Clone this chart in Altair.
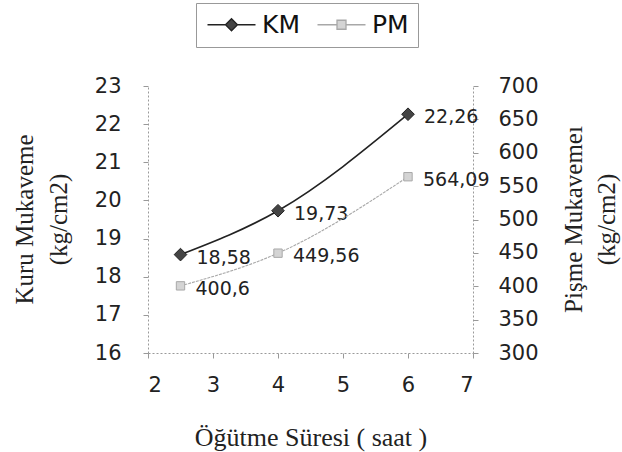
import altair as alt
import pandas as pd

hours = [2.5, 4, 6]
km_values = [18.58, 19.73, 22.26]
pm_values = [400.6, 449.56, 564.09]
km_labels = ["18,58", "19,73", "22,26"]
pm_labels = ["400,6", "449,56", "564,09"]
series_names = ["KM", "PM"]
x_ticks = [2, 3, 4, 5, 6, 7]
km_ticks = [16, 17, 18, 19, 20, 21, 22, 23]
pm_ticks = [300, 350, 400, 450, 500, 550, 600, 650, 700]

km_df = pd.DataFrame({"t": hours, "v": km_values, "lab": km_labels, "series": "KM"})
pm_df = pd.DataFrame({"t": hours, "v": pm_values, "lab": pm_labels, "series": "PM"})
legend_df = pd.DataFrame({"t": [hours[0], hours[0]], "v": [km_values[0], km_values[0]], "series": series_names})

KM_DARK = "#222222"
PM_GRAY = "#a8a8a8"
SANS = "DejaVu Sans"
SERIF = "Liberation Serif"

PATH_KM = "M-1,0H0.8M2,0H3.8M0.8,0L1.4,-0.6L2,0L1.4,0.6Z"
PATH_PM = "M-1,0H0.95M1.85,0H3.8M0.95,-0.45H1.85V0.45H0.95Z"

x_enc = alt.X(
    "t:Q",
    scale=alt.Scale(domain=[2, 7], nice=False, zero=False),
    axis=alt.Axis(values=x_ticks, title="Öğütme Süresi ( saat )",
                  titleY=84, titleBaseline="middle", labelPadding=16, titleFontSize=26),
)

legend = alt.Legend(
    orient="none", legendX=48, legendY=-83, direction="horizontal", title=None,
    strokeColor="#999", fillColor="white", padding=9, symbolSize=400,
    labelFont=SANS, labelFontSize=25, labelColor="#111",
    labelOffset=32, columnPadding=14, symbolOpacity=1, symbolStrokeWidth=1.3,
)

y_km = alt.Y(
    "v:Q", scale=alt.Scale(domain=[16, 23], nice=False, zero=False),
    axis=alt.Axis(orient="left", values=km_ticks, title=["Kuru Mukaveme", "(kg/cm2)"],
                  titleAngle=270, titleX=-124, titleY=133, titleAlign="center",
                  titleBaseline="middle", titleLineHeight=34, labelPadding=22),
)
y_pm = alt.Y(
    "v:Q", scale=alt.Scale(domain=[300, 700], nice=False, zero=False),
    axis=alt.Axis(orient="right", values=pm_ticks, title=["Pişme Mukavemeı", "(kg/cm2)"],
                  titleAngle=270, titleX=100, titleY=133, titleAlign="center",
                  titleBaseline="middle", titleLineHeight=33, labelPadding=20),
)

legend_layer = alt.Chart(legend_df).mark_point(filled=True, opacity=0).encode(
    x=x_enc, y=y_km,
    shape=alt.Shape("series:N", scale=alt.Scale(domain=series_names, range=[PATH_KM, PATH_PM]), legend=legend),
    fill=alt.Fill("series:N", scale=alt.Scale(domain=series_names, range=["#444444", "#d4d4d4"]), legend=legend),
    stroke=alt.Stroke("series:N", scale=alt.Scale(domain=series_names, range=[KM_DARK, PM_GRAY]), legend=legend),
)

km_base = alt.Chart(km_df)
km_layer = alt.layer(
    km_base.mark_line(interpolate="monotone", color=KM_DARK, strokeWidth=1.6).encode(x=x_enc, y=y_km),
    km_base.mark_point(shape="diamond", size=160, filled=True, fill="#444444", stroke=KM_DARK, strokeWidth=1, opacity=1).encode(x=x_enc, y=y_km),
    km_base.mark_text(align="left", dx=16, dy=3, font=SANS, fontSize=19, color="#222").encode(x=x_enc, y=y_km, text="lab:N"),
    legend_layer,
)

pm_base = alt.Chart(pm_df)
pm_layer = alt.layer(
    pm_base.mark_line(interpolate="monotone", color=PM_GRAY, strokeWidth=1.1, strokeDash=[3, 1]).encode(x=x_enc, y=y_pm),
    pm_base.mark_point(shape="square", size=70, filled=True, fill="#d4d4d4", stroke=PM_GRAY, strokeWidth=1, opacity=1).encode(x=x_enc, y=y_pm),
    pm_base.mark_text(align="left", dx=15, dy=3, font=SANS, fontSize=19, color="#222").encode(x=x_enc, y=y_pm, text="lab:N"),
)

chart = alt.layer(km_layer, pm_layer).resolve_scale(y="independent").properties(
    width=325, height=267,
    autosize=alt.AutoSizeParams(type="none"),
    padding={"left": 148, "top": 86, "right": 149, "bottom": 99},
    background="white",
).configure_axis(
    grid=False, domainColor="#9a9a9a", domainDash=[2, 2], tickColor="#999", tickSize=5,
    labelFont=SANS, labelFontSize=21, labelColor="#222",
    titleFont=SERIF, titleFontSize=25, titleFontWeight="normal", titleColor="#222",
).configure_view(stroke=None)

chart.save("out.html", embed_options={"renderer": "svg", "actions": False})
